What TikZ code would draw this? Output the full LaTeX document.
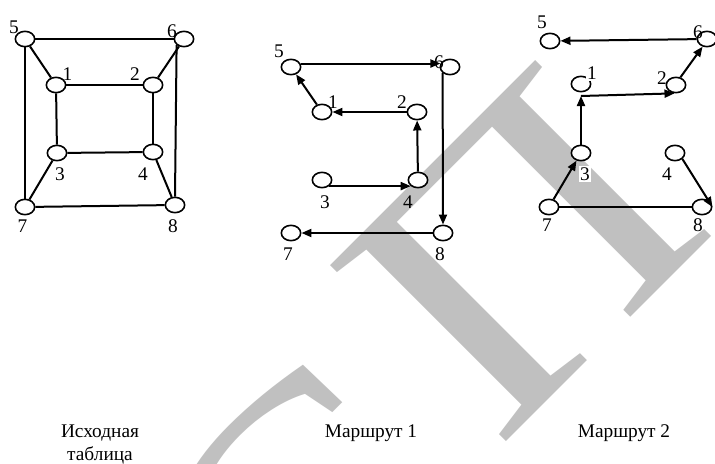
\documentclass[tikz,border=0pt]{standalone}
\usepackage{fontspec}
\setmainfont{Liberation Serif}
\usetikzlibrary{shapes.geometric, arrows.meta, positioning}
\usepackage{xcolor}
\definecolor{wmgray}{RGB}{192,192,192}

\begin{document}
\begin{tikzpicture}[x=0.75pt, y=-0.75pt,
  vertex/.style={ellipse, draw=black, line width=1.2pt, fill=white,
    minimum width=14.5pt, minimum height=11.5pt, inner sep=0pt},
  num/.style={font=\fontsize{14.5}{16}\selectfont, inner sep=0.6pt},
  numbox/.style={num, fill=white, inner sep=1.2pt},
  edge/.style={line width=1.5pt},
  arrow/.style={-{Triangle[length=7.5pt, width=6pt]}, line width=1.5pt},
  caption/.style={font=\fontsize{14.5}{18}\selectfont},
  watermark/.style={rotate=45, xscale=1.15, text=wmgray, inner sep=0pt,
    anchor=base west, font=\fontsize{285}{285}\selectfont}
]
\useasboundingbox (0,0) rectangle (715,464);
\fill[white] (0,0) rectangle (715,464);

% watermark
\begin{scope}
  \clip (0,0) rectangle (715,464);
  \node (wmc) [watermark] at (289,722) {С};
  \node (wmp) [watermark] at (497,451) {П};
\end{scope}

% Исходная таблица
\node (a5) [vertex] at (25,39) {};
\node (a6) [vertex] at (184,39) {};
\node (a1) [vertex] at (56,85) {};
\node (a2) [vertex] at (153,85) {};
\node (a3) [vertex] at (57,153) {};
\node (a4) [vertex] at (153,152) {};
\node (a7) [vertex] at (25,207) {};
\node (a8) [vertex] at (175,205) {};

\draw [edge] (a5) -- (a6);
\draw [edge] (a5) -- (a7);
\draw [edge] (a5) -- (a1);
\draw [edge] (a6) -- (a2);
\draw [edge] (a6.south west) -- (a8.north);
\draw [edge] (a1) -- (a2);
\draw [edge] (a1) -- (a3);
\draw [edge] (a2) -- (a4);
\draw [edge] (a3) -- (a4);
\draw [edge] (a3) -- (a7);
\draw [edge] (a4) -- (a8);
\draw [edge] (a7) -- (a8);

\node (a5n) [num] at (14,27) {5};
\node (a6n) [num] at (172,31) {6};
\node (a1n) [num] at (67.5,74) {1};
\node (a2n) [num] at (135,74) {2};
\node (a3n) [num] at (60,174) {3};
\node (a4n) [num] at (143,174) {4};
\node (a7n) [num] at (22.5,226) {7};
\node (a8n) [num] at (173,226) {8};

% Маршрут 1
\node (b5) [vertex] at (291,67) {};
\node (b6) [vertex] at (450,67) {};
\node (b1) [vertex] at (322,112) {};
\node (b2) [vertex] at (417,112) {};
\node (b3) [vertex] at (322,180) {};
\node (b4) [vertex] at (418,180) {};
\node (b7) [vertex] at (291,233) {};
\node (b8) [vertex] at (443,233) {};

\draw [arrow] (b3.-40) -- (b4.-140);
\draw [arrow] (b4) -- (b2);
\draw [arrow] (b2) -- (b1);
\draw [arrow] (b1) -- (b5);
\draw [arrow] (b5.20) -- (b6.160);
\draw [arrow] (b6.south west) -- (b8.north);
\draw [arrow] (b8) -- (b7);

\node (b5n) [num] at (279,51) {5};
\node (b6n) [num] at (439,62.5) {6};
\node (b1n) [num] at (333,102.5) {1};
\node (b2n) [num] at (402,102.5) {2};
\node (b3n) [num] at (325,202.5) {3};
\node (b4n) [num] at (408,202.5) {4};
\node (b7n) [num] at (288,254) {7};
\node (b8n) [num] at (440,254) {8};

% Маршрут 2
\node (c5) [vertex] at (550,41) {};
\node (c6) [vertex] at (707,39) {};
\node (c1) [vertex] at (581,84) {};
\node (c2) [vertex] at (676,85) {};
\node (c3) [vertex] at (581,153) {};
\node (c4) [vertex] at (675,153) {};
\node (c7) [vertex] at (549,207) {};
\node (c8) [vertex] at (702,207) {};
\coordinate (c13) at (581,96);

\draw [arrow] (c4.south east) -- (c8.east);
\draw [edge] (c8) -- (c7);
\draw [arrow] (c7) -- (c3);
\draw [arrow] (c3) -- (c13);
\draw [arrow] (c13) -- (c2.-100);
\draw [arrow] (c2.60) -- (c6.240);
\draw [arrow] (c6) -- (c5);

\node (c5n) [num] at (542,22.5) {5};
\node (c6n) [num] at (698,32) {6};
\node (c1n) [numbox] at (592,73) {1};
\node (c2n) [num] at (662,78) {2};
\node (c3n) [numbox] at (585,174) {3};
\node (c4n) [num] at (667,174) {4};
\node (c7n) [num] at (547,225) {7};
\node (c8n) [num] at (698,225) {8};

% подписи
\node (capa) [caption, anchor=base] at (100,437) {Исходная};
\node (capb) [caption, anchor=base] at (100,460) {таблица};
\node (capc) [caption, anchor=base] at (371,437) {Маршрут 1};
\node (capd) [caption, anchor=base] at (624,437) {Маршрут 2};

\end{tikzpicture}
\end{document}
